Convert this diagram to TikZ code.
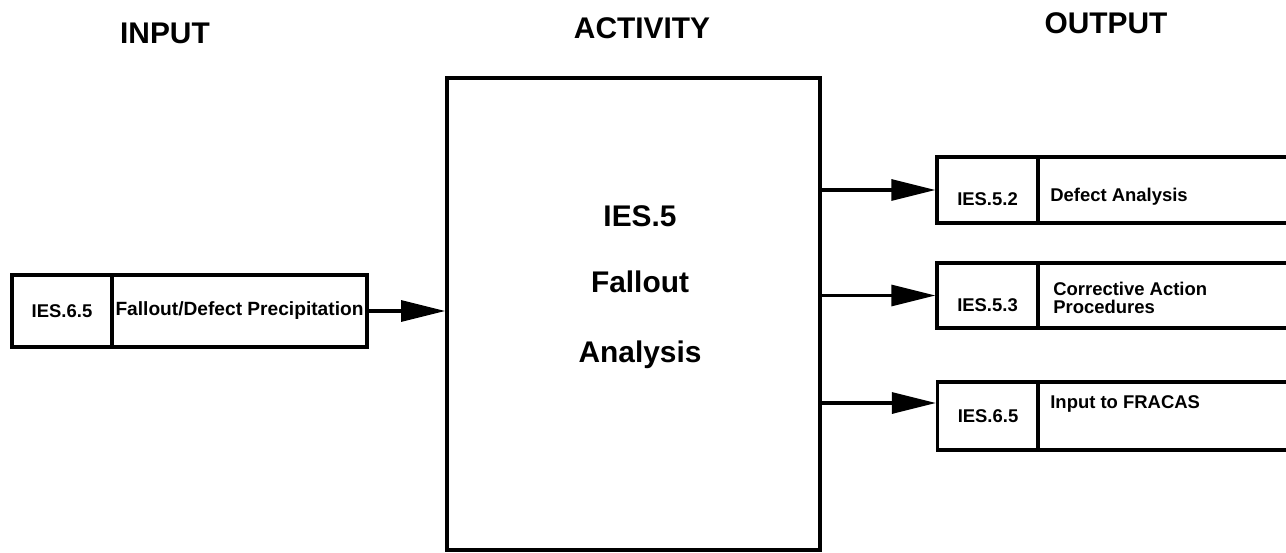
\documentclass[tikz,border=0pt]{standalone}
\usepackage{fontspec}
\setmainfont{Liberation Sans}
\usetikzlibrary{arrows.meta, positioning}
\newcommand{\lowered}[1]{\raisebox{-0.31cm}[0pt][0pt]{#1}}

\begin{document}
\begin{tikzpicture}[
  idbox/.style={rectangle, draw, line width=1.8pt, minimum width=2.02cm, inner sep=0pt, font=\fontsize{10.5}{12}\selectfont\bfseries},
  txtbox/.style={rectangle, draw, line width=1.8pt, inner sep=0pt, font=\fontsize{10.9}{12}\selectfont\bfseries},
  outtxt/.style={inner sep=0pt, align=left, font=\fontsize{10.5}{9.8}\selectfont\bfseries},
  head/.style={inner sep=0pt, font=\fontsize{17}{20}\selectfont\bfseries},
  flow/.style={-{Triangle[length=0.88cm, width=0.42cm]}, line width=1.8pt}
]
\useasboundingbox (0,0) rectangle (25.72,-11.06);
\clip (0,0) rectangle (25.72,-11.06);

% column heads
\node[head] (hin) at (3.3,-0.66) {INPUT};
\node[head] (hact) at (12.84,-0.56) {ACTIVITY};
\node[head] (hout) at (22.12,-0.46) {OUTPUT};

% input
\node[idbox, minimum width=2.0cm, minimum height=1.44cm] (iid) at (1.24,-6.22) {IES.6.5};
\node[txtbox, minimum width=5.1cm, minimum height=1.44cm] (ibox) at (4.79,-6.22) {Fallout/Defect Precipitation};

% activity
\node[rectangle, draw, line width=2.2pt, minimum width=7.46cm, minimum height=9.44cm] (act) at (12.67,-6.28) {};
\node[head, anchor=base] (actid) at (12.8,-4.54) {IES.5};
\node[head, anchor=base] (actname1) at (12.8,-5.86) {Fallout};
\node[head, anchor=base] (actname2) at (12.8,-7.24) {Analysis};

% outputs
\node[idbox, minimum height=1.32cm] (oid1) at (19.75,-3.8) {\lowered{IES.5.2}};
\node[txtbox, minimum width=5.5cm, minimum height=1.32cm] (obox1) at (23.5,-3.8) {};
\node[outtxt, anchor=base west] (otxt1) at (21.0,-4.04) {Defect Analysis};

\node[idbox, minimum height=1.30cm] (oid2) at (19.75,-5.91) {\lowered{IES.5.3}};
\node[txtbox, minimum width=5.5cm, minimum height=1.30cm] (obox2) at (23.5,-5.91) {};
\node[outtxt, anchor=west] (otxt2) at (21.06,-5.96) {Corrective Action\\Procedures};

\node[idbox, minimum height=1.36cm] (oid3) at (19.76,-8.32) {IES.6.5};
\node[txtbox, minimum width=5.5cm, minimum height=1.36cm] (obox3) at (23.5,-8.32) {};
\node[outtxt, anchor=base west] (otxt3) at (21.0,-8.16) {Input to FRACAS};

% arrows
\coordinate (in3) at ([yshift=0.26cm]oid3.west);
\draw[flow] (ibox.east) -- (act.west |- ibox.east);
\draw[flow] (act.east |- oid1.west) -- (oid1.west);
\draw[flow] (act.east |- oid2.west) -- (oid2.west);
\draw[flow] (act.east |- in3) -- (in3);
\end{tikzpicture}
\end{document}
